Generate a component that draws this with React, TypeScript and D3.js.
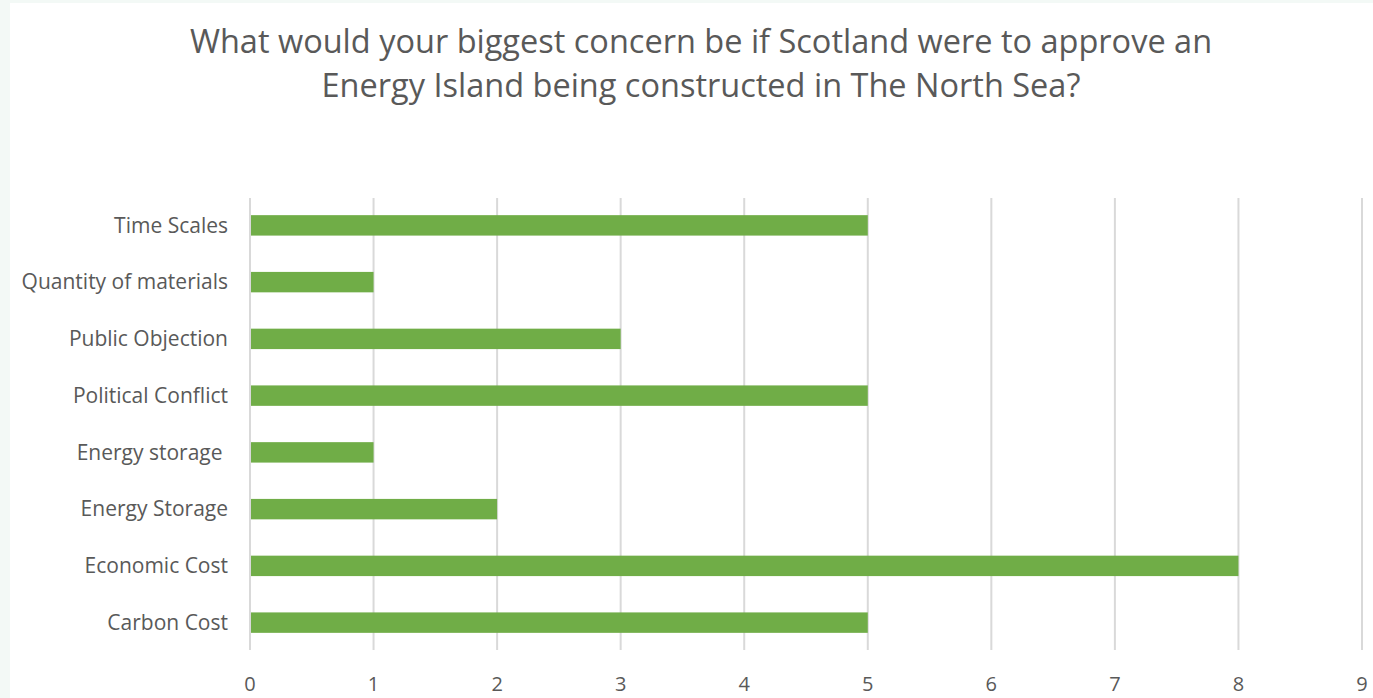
import React from "react";
import * as d3 from "d3";

const categories = [
  "Time Scales",
  "Quantity of materials",
  "Public Objection",
  "Political Conflict",
  "Energy storage ",
  "Energy Storage",
  "Economic Cost",
  "Carbon Cost",
];
const values = [5, 1, 3, 5, 1, 2, 8, 5];
const xTicks = [0, 1, 2, 3, 4, 5, 6, 7, 8, 9];
const titleLines = [
  "What would your biggest concern be if Scotland were to approve an",
  "Energy Island being constructed in The North Sea?",
];

const W = 1373;
const H = 698;
const FONT = "'Open Sans', sans-serif";
const TXT = "#595959";

export default function App() {
  const x = d3.scaleLinear().domain([0, 9]).range([250, 1362]);
  const y = d3
    .scaleBand()
    .domain(categories)
    .range([197, 651])
    .paddingInner(0.64)
    .paddingOuter(0.32);

  return (
    <svg
      width={W}
      height={H}
      style={{ position: "absolute", left: 0, top: 0 }}
    >
      <rect x={0} y={0} width={W} height={H} fill="#F3F9F6" />
      <rect x={10} y={3} width={W - 10} height={H - 3} fill="#FFFFFF" />
      {titleLines.map((t, i) => (
        <text
          key={i}
          x={701}
          y={53 + i * 44}
          textAnchor="middle"
          fontFamily={FONT}
          fontSize={32.5}
          fill={TXT}
        >
          {t}
        </text>
      ))}
      {xTicks.map((t) => (
        <g key={t}>
          <line
            x1={x(t)}
            x2={x(t)}
            y1={198}
            y2={650}
            stroke="#D9D9D9"
            strokeWidth={2}
          />
          <text
            x={x(t)}
            y={691}
            textAnchor="middle"
            fontFamily={FONT}
            fontSize={20}
            fill={TXT}
          >
            {t}
          </text>
        </g>
      ))}
      {categories.map((c, i) => (
        <g key={c}>
          <rect
            x={x(0) + 1}
            y={y(c)!}
            width={x(values[i]) - x(0) - 1}
            height={y.bandwidth()}
            fill="#70AD47"
          />
          <text
            x={228}
            y={y(c)! + y.bandwidth() / 2}
            dy="0.35em"
            textAnchor="end"
            fontFamily={FONT}
            fontSize={21}
            fill={TXT}
            style={{ whiteSpace: "pre" }}
          >
            {c}
          </text>
        </g>
      ))}
    </svg>
  );
}
